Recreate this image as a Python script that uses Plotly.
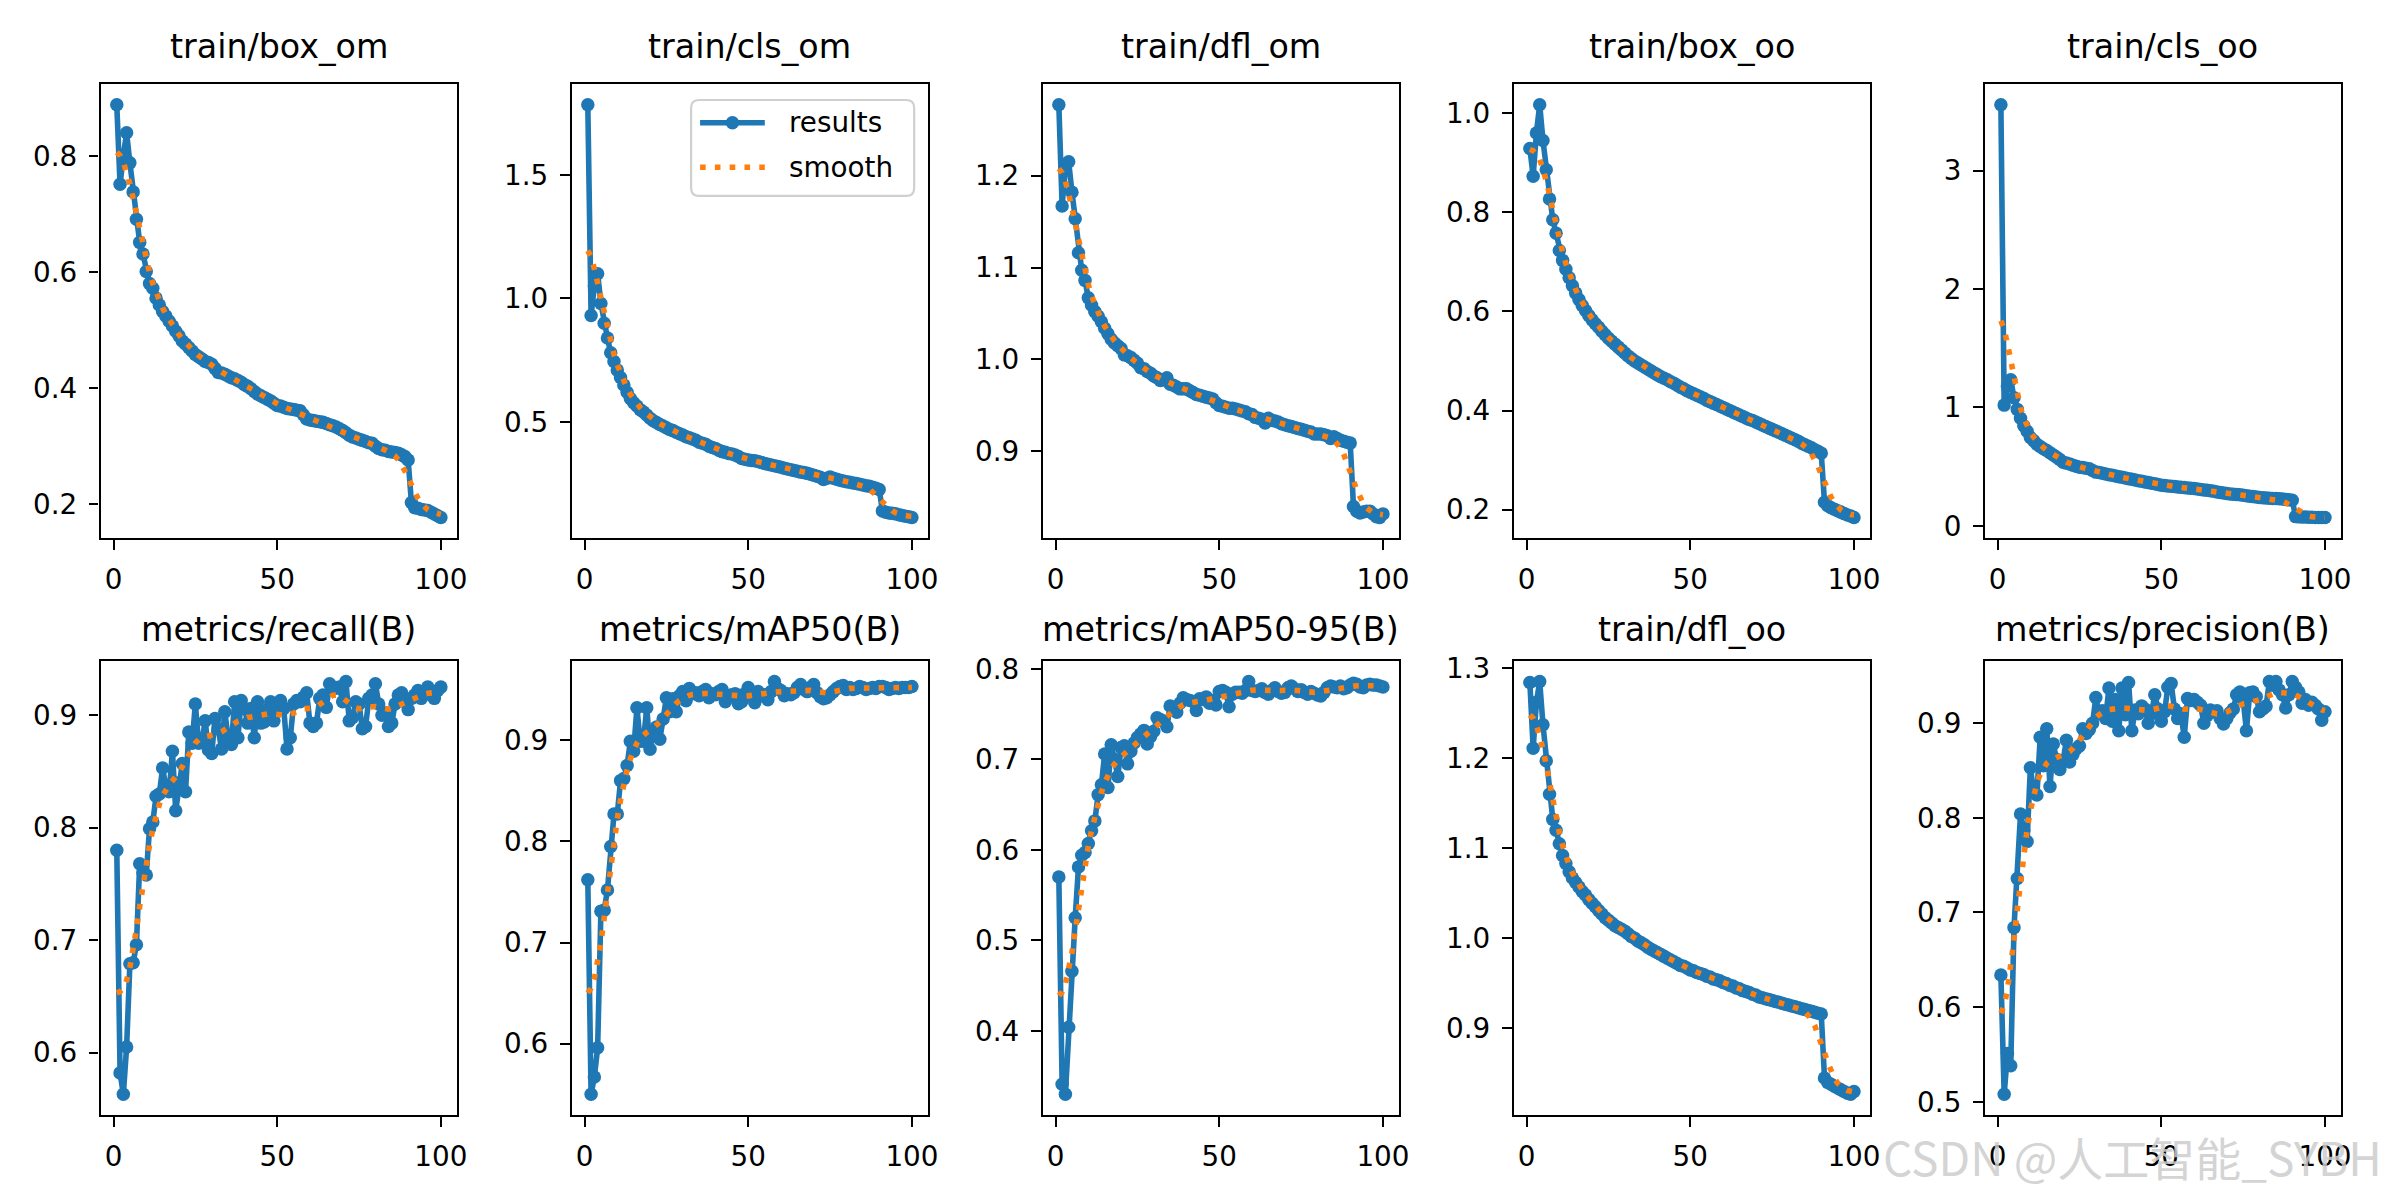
import numpy as np
import plotly.graph_objects as go

epochs = list(range(1, 101))

box_om = [0.888, 0.751, 0.800, 0.840, 0.788, 0.738, 0.691, 0.651, 0.631, 0.601,
          0.580, 0.572, 0.555, 0.543, 0.532, 0.524, 0.515, 0.507, 0.498, 0.490,
          0.481, 0.476, 0.470, 0.464, 0.458, 0.454, 0.450, 0.446, 0.444, 0.441,
          0.434, 0.427, 0.426, 0.424, 0.421, 0.418, 0.416, 0.413, 0.410, 0.406,
          0.403, 0.399, 0.394, 0.390, 0.387, 0.384, 0.381, 0.378, 0.374, 0.370,
          0.369, 0.367, 0.365, 0.364, 0.363, 0.362, 0.361, 0.354, 0.347, 0.345,
          0.344, 0.343, 0.342, 0.341, 0.339, 0.337, 0.335, 0.333, 0.330, 0.327,
          0.323, 0.319, 0.316, 0.314, 0.312, 0.310, 0.308, 0.306, 0.305, 0.300,
          0.296, 0.294, 0.293, 0.291, 0.290, 0.289, 0.288, 0.285, 0.282, 0.276,
          0.203, 0.194, 0.193, 0.191, 0.190, 0.189, 0.186, 0.183, 0.180, 0.177]

cls_om = [1.784, 0.931, 1.050, 1.100, 0.980, 0.900, 0.840, 0.780, 0.745, 0.710,
          0.680, 0.650, 0.620, 0.595, 0.578, 0.565, 0.550, 0.540, 0.528, 0.515,
          0.505, 0.498, 0.490, 0.484, 0.477, 0.470, 0.465, 0.458, 0.452, 0.447,
          0.440, 0.436, 0.431, 0.426, 0.418, 0.414, 0.410, 0.402, 0.397, 0.393,
          0.386, 0.380, 0.377, 0.372, 0.370, 0.366, 0.360, 0.352, 0.349, 0.346,
          0.344, 0.343, 0.340, 0.336, 0.332, 0.329, 0.326, 0.323, 0.320, 0.317,
          0.313, 0.310, 0.307, 0.304, 0.301, 0.297, 0.295, 0.292, 0.288, 0.284,
          0.280, 0.276, 0.267, 0.272, 0.277, 0.272, 0.268, 0.264, 0.261, 0.258,
          0.256, 0.253, 0.251, 0.248, 0.245, 0.242, 0.240, 0.236, 0.232, 0.227,
          0.140, 0.135, 0.132, 0.130, 0.128, 0.124, 0.121, 0.118, 0.116, 0.113]

dfl_om = [1.277, 1.167, 1.210, 1.215, 1.182, 1.153, 1.116, 1.097, 1.086, 1.067,
          1.059, 1.052, 1.047, 1.041, 1.034, 1.028, 1.022, 1.018, 1.015, 1.012,
          1.005, 1.004, 1.002, 0.999, 0.996, 0.991, 0.990, 0.987, 0.985, 0.982,
          0.980, 0.977, 0.978, 0.980, 0.973, 0.972, 0.970, 0.968, 0.968, 0.968,
          0.966, 0.964, 0.962, 0.961, 0.960, 0.959, 0.958, 0.957, 0.953, 0.950,
          0.949, 0.948, 0.947, 0.947, 0.946, 0.945, 0.944, 0.943, 0.941, 0.940,
          0.937, 0.936, 0.935, 0.931, 0.936, 0.934, 0.933, 0.932, 0.930, 0.929,
          0.928, 0.927, 0.926, 0.925, 0.924, 0.923, 0.922, 0.921, 0.919, 0.919,
          0.919, 0.918, 0.917, 0.914, 0.916, 0.914, 0.912, 0.911, 0.910, 0.909,
          0.840, 0.835, 0.833, 0.834, 0.835, 0.835, 0.832, 0.829, 0.828, 0.832]

box_oo = [0.929, 0.873, 0.960, 1.017, 0.945, 0.886, 0.827, 0.785, 0.758, 0.723,
          0.703, 0.685, 0.668, 0.652, 0.637, 0.624, 0.612, 0.602, 0.592, 0.583,
          0.575, 0.568, 0.560, 0.553, 0.546, 0.540, 0.534, 0.528, 0.522, 0.516,
          0.510, 0.505, 0.500, 0.496, 0.492, 0.488, 0.484, 0.480, 0.476, 0.472,
          0.468, 0.465, 0.462, 0.458, 0.455, 0.451, 0.447, 0.444, 0.440, 0.437,
          0.434, 0.431, 0.428, 0.425, 0.421, 0.418, 0.415, 0.412, 0.409, 0.406,
          0.403, 0.400, 0.397, 0.394, 0.391, 0.388, 0.385, 0.382, 0.380, 0.377,
          0.374, 0.371, 0.368, 0.365, 0.362, 0.359, 0.356, 0.353, 0.350, 0.347,
          0.344, 0.341, 0.338, 0.334, 0.331, 0.328, 0.325, 0.321, 0.318, 0.314,
          0.215, 0.208, 0.204, 0.201, 0.198, 0.195, 0.192, 0.189, 0.187, 0.184]

cls_oo = [3.557, 1.020, 1.180, 1.235, 1.082, 0.984, 0.909, 0.845, 0.800, 0.747,
          0.720, 0.690, 0.670, 0.652, 0.636, 0.618, 0.598, 0.580, 0.560, 0.538,
          0.530, 0.522, 0.512, 0.504, 0.496, 0.492, 0.487, 0.482, 0.468, 0.454,
          0.450, 0.444, 0.438, 0.432, 0.427, 0.421, 0.415, 0.410, 0.404, 0.399,
          0.393, 0.388, 0.382, 0.376, 0.371, 0.366, 0.360, 0.355, 0.349, 0.343,
          0.340, 0.337, 0.335, 0.332, 0.329, 0.326, 0.323, 0.320, 0.318, 0.315,
          0.311, 0.307, 0.303, 0.300, 0.296, 0.292, 0.287, 0.282, 0.278, 0.273,
          0.270, 0.267, 0.265, 0.262, 0.259, 0.255, 0.251, 0.247, 0.244, 0.240,
          0.238, 0.236, 0.234, 0.232, 0.231, 0.229, 0.226, 0.223, 0.220, 0.217,
          0.078, 0.076, 0.075, 0.074, 0.073, 0.072, 0.071, 0.071, 0.070, 0.070]

recall = [0.780, 0.582, 0.563, 0.605, 0.679, 0.680, 0.696, 0.768, 0.760, 0.758,
          0.799, 0.805, 0.828, 0.830, 0.853, 0.836, 0.832, 0.868, 0.815, 0.840,
          0.857, 0.832, 0.885, 0.875, 0.910, 0.875, 0.876, 0.895, 0.869, 0.866,
          0.897, 0.888, 0.870, 0.903, 0.880, 0.874, 0.912, 0.880, 0.913, 0.906,
          0.893, 0.906, 0.880, 0.912, 0.893, 0.894, 0.905, 0.912, 0.895, 0.908,
          0.913, 0.906, 0.870, 0.880, 0.910, 0.913, 0.912, 0.916, 0.920, 0.893,
          0.890, 0.893, 0.915, 0.918, 0.907, 0.928, 0.925, 0.924, 0.925, 0.912,
          0.930, 0.895, 0.898, 0.912, 0.910, 0.888, 0.890, 0.915, 0.918, 0.928,
          0.910, 0.900, 0.902, 0.890, 0.893, 0.910, 0.918, 0.920, 0.912, 0.905,
          0.915, 0.918, 0.922, 0.915, 0.920, 0.925, 0.918, 0.915, 0.922, 0.925]

map50 = [0.762, 0.550, 0.567, 0.596, 0.731, 0.732, 0.752, 0.795, 0.827, 0.827,
         0.860, 0.862, 0.875, 0.899, 0.889, 0.932, 0.899, 0.899, 0.932, 0.891,
         0.909, 0.913, 0.901, 0.921, 0.942, 0.928, 0.941, 0.928, 0.944, 0.948,
         0.939, 0.951, 0.946, 0.947, 0.944, 0.948, 0.950, 0.942, 0.946, 0.945,
         0.948, 0.950, 0.938, 0.943, 0.945, 0.946, 0.936, 0.938, 0.946, 0.952,
         0.944, 0.937, 0.948, 0.944, 0.945, 0.940, 0.948, 0.958, 0.951, 0.949,
         0.944, 0.946, 0.945, 0.947, 0.952, 0.955, 0.950, 0.948, 0.952, 0.955,
         0.947, 0.943, 0.941, 0.942, 0.945, 0.948, 0.951, 0.953, 0.954, 0.950,
         0.952, 0.950, 0.951, 0.953, 0.952, 0.950, 0.951, 0.952, 0.951, 0.953,
         0.953, 0.952, 0.950, 0.951, 0.952, 0.951, 0.952, 0.952, 0.952, 0.953]

map50_95 = [0.570, 0.341, 0.330, 0.404, 0.466, 0.525, 0.581, 0.594, 0.597, 0.607,
            0.621, 0.632, 0.661, 0.672, 0.706, 0.669, 0.716, 0.700, 0.681, 0.713,
            0.715, 0.695, 0.709, 0.718, 0.724, 0.728, 0.732, 0.717, 0.725, 0.731,
            0.746, 0.744, 0.742, 0.736, 0.759, 0.756, 0.752, 0.762, 0.768, 0.766,
            0.765, 0.764, 0.754, 0.767, 0.766, 0.769, 0.762, 0.765, 0.760, 0.775,
            0.776, 0.774, 0.758, 0.772, 0.774, 0.774, 0.773, 0.776, 0.786, 0.776,
            0.775, 0.776, 0.778, 0.774, 0.772, 0.776, 0.779, 0.775, 0.773, 0.774,
            0.779, 0.781, 0.778, 0.775, 0.777, 0.774, 0.772, 0.775, 0.773, 0.771,
            0.770, 0.774, 0.779, 0.781, 0.780, 0.779, 0.781, 0.778, 0.779, 0.782,
            0.784, 0.783, 0.780, 0.779, 0.782, 0.783, 0.782, 0.782, 0.781, 0.780]

dfl_oo = [1.284, 1.211, 1.262, 1.285, 1.237, 1.197, 1.160, 1.132, 1.120, 1.105,
          1.092, 1.083, 1.074, 1.067, 1.062, 1.057, 1.052, 1.048, 1.043, 1.039,
          1.035, 1.031, 1.027, 1.023, 1.020, 1.017, 1.014, 1.012, 1.010, 1.008,
          1.005, 1.002, 1.000, 0.997, 0.995, 0.993, 0.990, 0.988, 0.986, 0.984,
          0.982, 0.980, 0.978, 0.976, 0.974, 0.972, 0.970, 0.969, 0.967, 0.965,
          0.964, 0.962, 0.961, 0.960, 0.958, 0.957, 0.955, 0.954, 0.953, 0.951,
          0.950, 0.948, 0.947, 0.945, 0.944, 0.942, 0.941, 0.940, 0.938, 0.937,
          0.935, 0.934, 0.933, 0.932, 0.931, 0.930, 0.929, 0.928, 0.927, 0.926,
          0.925, 0.924, 0.923, 0.922, 0.921, 0.920, 0.919, 0.918, 0.917, 0.916,
          0.845, 0.840, 0.838, 0.836, 0.834, 0.832, 0.830, 0.828, 0.827, 0.830]

precision = [0.634, 0.508, 0.551, 0.538, 0.684, 0.736, 0.804, 0.787, 0.775, 0.853,
             0.828, 0.824, 0.885, 0.855, 0.894, 0.833, 0.878, 0.862, 0.851, 0.860,
             0.882, 0.859, 0.867, 0.873, 0.876, 0.894, 0.889, 0.893, 0.900, 0.927,
             0.910, 0.913, 0.905, 0.937, 0.902, 0.925, 0.892, 0.937, 0.909, 0.943,
             0.892, 0.914, 0.910, 0.918, 0.915, 0.900, 0.910, 0.930, 0.915, 0.902,
             0.912, 0.938, 0.942, 0.915, 0.905, 0.910, 0.885, 0.926, 0.924, 0.925,
             0.922, 0.919, 0.900, 0.908, 0.914, 0.912, 0.913, 0.905, 0.899, 0.905,
             0.911, 0.915, 0.930, 0.933, 0.925, 0.892, 0.932, 0.933, 0.928, 0.912,
             0.915, 0.918, 0.944, 0.940, 0.944, 0.935, 0.930, 0.916, 0.930, 0.944,
             0.938, 0.933, 0.921, 0.925, 0.919, 0.922, 0.919, 0.915, 0.903, 0.912]

titles = ["train/box_om", "train/cls_om", "train/dfl_om", "train/box_oo", "train/cls_oo",
          "metrics/recall(B)", "metrics/mAP50(B)", "metrics/mAP50-95(B)", "train/dfl_oo",
          "metrics/precision(B)"]
series = [box_om, cls_om, dfl_om, box_oo, cls_oo, recall, map50, map50_95, dfl_oo, precision]
y_dticks = [0.2, 0.5, 0.1, 0.2, 1, 0.1, 0.1, 0.1, 0.1, 0.1]
y_formats = [".1f", ".1f", ".1f", ".1f", "d", ".1f", ".1f", ".1f", ".1f", ".1f"]
legend_labels = ["results", "smooth"]


def smooth(y, sigma=3):
    # same as scipy gaussian_filter1d(mode='reflect')
    r = int(4 * sigma + 0.5)
    k = np.arange(-r, r + 1)
    w = np.exp(-0.5 * (k / sigma) ** 2)
    w /= w.sum()
    p = np.pad(np.asarray(y, float), r, mode="symmetric")
    return np.convolve(p, w, mode="valid")


def pad_range(v):
    lo, hi = min(v), max(v)
    m = 0.05 * (hi - lo)
    return [lo - m, hi + m]


W, H = 2400, 1200
BLUE = "#1f77b4"
ORANGE = "#ff7f0e"
DOTS = "5.6px,9.2px"
TICK_FONT = dict(family="DejaVu Sans", size=27.8, color="black")


def px(x):
    return x / W


def py(y):
    return 1 - y / H


# panel boxes in pixels (left edge, top edge)
lefts = [101, 574, 1047, 1520, 1993]
tops = [76, 659]
title_gap = [16, 10]
pw, ph = 358, 459

fig = go.Figure()
layout = {}
annotations = []
shapes = []

for i, (title, y) in enumerate(zip(titles, series)):
    assert len(y) == len(epochs)
    row, col = divmod(i, 5)
    n = i + 1
    xa = "x" if n == 1 else f"x{n}"
    ya = "y" if n == 1 else f"y{n}"
    x0, x1 = px(lefts[col]), px(lefts[col] + pw)
    y0, y1 = py(tops[row] + ph), py(tops[row])

    fig.add_trace(go.Scatter(
        x=epochs, y=y, mode="lines+markers", name="results",
        line=dict(color=BLUE, width=5.6),
        marker=dict(color=BLUE, size=13.5),
        xaxis=xa, yaxis=ya, showlegend=False))
    fig.add_trace(go.Scatter(
        x=epochs, y=smooth(y), mode="lines", name="smooth",
        line=dict(color=ORANGE, width=5.6, dash=DOTS),
        xaxis=xa, yaxis=ya, showlegend=False))

    common = dict(showline=True, mirror=True, linecolor="black", linewidth=2.2,
                  ticks="outside", ticklen=9.7, tickwidth=2.2, tickcolor="black",
                  showgrid=False, zeroline=False, tickfont=TICK_FONT,
                  ticklabelstandoff=6)
    layout["xaxis" if n == 1 else f"xaxis{n}"] = dict(
        domain=[x0, x1], anchor=ya, range=pad_range(epochs),
        tickvals=[0, 50, 100], **common)
    layout["yaxis" if n == 1 else f"yaxis{n}"] = dict(
        domain=[y0, y1], anchor=xa, range=pad_range(y),
        dtick=y_dticks[i], tick0=0, tickformat=y_formats[i], **common)

    annotations.append(dict(
        text=title, x=(x0 + x1) / 2, y=py(tops[row] - title_gap[row]),
        xref="paper", yref="paper", xanchor="center", yanchor="bottom",
        showarrow=False, font=dict(family="DejaVu Sans", size=33.3, color="black")))

# legend drawn like matplotlib's (rounded frame, long handles) inside train/cls_om
lx0, lx1, ly0, ly1, r = 694, 918, 92, 189, 8
shapes.append(dict(
    type="path", xref="paper", yref="paper",
    path=(f"M{px(lx0 + r)},{py(ly0)} L{px(lx1 - r)},{py(ly0)} "
          f"Q{px(lx1)},{py(ly0)} {px(lx1)},{py(ly0 + r)} "
          f"L{px(lx1)},{py(ly1 - r)} Q{px(lx1)},{py(ly1)} {px(lx1 - r)},{py(ly1)} "
          f"L{px(lx0 + r)},{py(ly1)} Q{px(lx0)},{py(ly1)} {px(lx0)},{py(ly1 - r)} "
          f"L{px(lx0)},{py(ly0 + r)} Q{px(lx0)},{py(ly0)} {px(lx0 + r)},{py(ly0)} Z"),
    fillcolor="rgba(255,255,255,0.8)", line=dict(color="#d0d0d0", width=2.2)))
hx0, hx1 = 703, 768
rows_y = [115, 160]
shapes.append(dict(type="line", xref="paper", yref="paper",
                   x0=px(hx0), x1=px(hx1), y0=py(rows_y[0]), y1=py(rows_y[0]),
                   line=dict(color=BLUE, width=5.6)))
mx, mr = (hx0 + hx1) / 2, 6.8
shapes.append(dict(type="circle", xref="paper", yref="paper",
                   x0=px(mx - mr), x1=px(mx + mr), y0=py(rows_y[0] + mr), y1=py(rows_y[0] - mr),
                   fillcolor=BLUE, line=dict(width=0)))
shapes.append(dict(type="line", xref="paper", yref="paper",
                   x0=px(hx0), x1=px(hx1), y0=py(rows_y[1]), y1=py(rows_y[1]),
                   line=dict(color=ORANGE, width=5.6, dash=DOTS)))
for label, yy in zip(legend_labels, rows_y):
    annotations.append(dict(
        text=label, x=px(hx1 + 22), y=py(yy), xref="paper", yref="paper",
        xanchor="left", yanchor="middle", showarrow=False,
        font=dict(family="DejaVu Sans", size=27.8, color="black")))

annotations.append(dict(
    text="CSDN @人工智能_SYBH", x=px(2394), y=py(1160),
    xref="paper", yref="paper", xanchor="right", yanchor="middle",
    showarrow=False,
    font=dict(family="Noto Sans CJK SC", size=46, color="rgba(205,205,205,0.85)")))

fig.update_layout(
    width=W, height=H,
    margin=dict(l=0, r=0, t=0, b=0),
    paper_bgcolor="white", plot_bgcolor="white",
    showlegend=False,
    annotations=annotations,
    shapes=shapes,
    **layout)

fig.write_html("out.html", config={"displayModeBar": False},
               post_script="document.body.style.margin='0';")
